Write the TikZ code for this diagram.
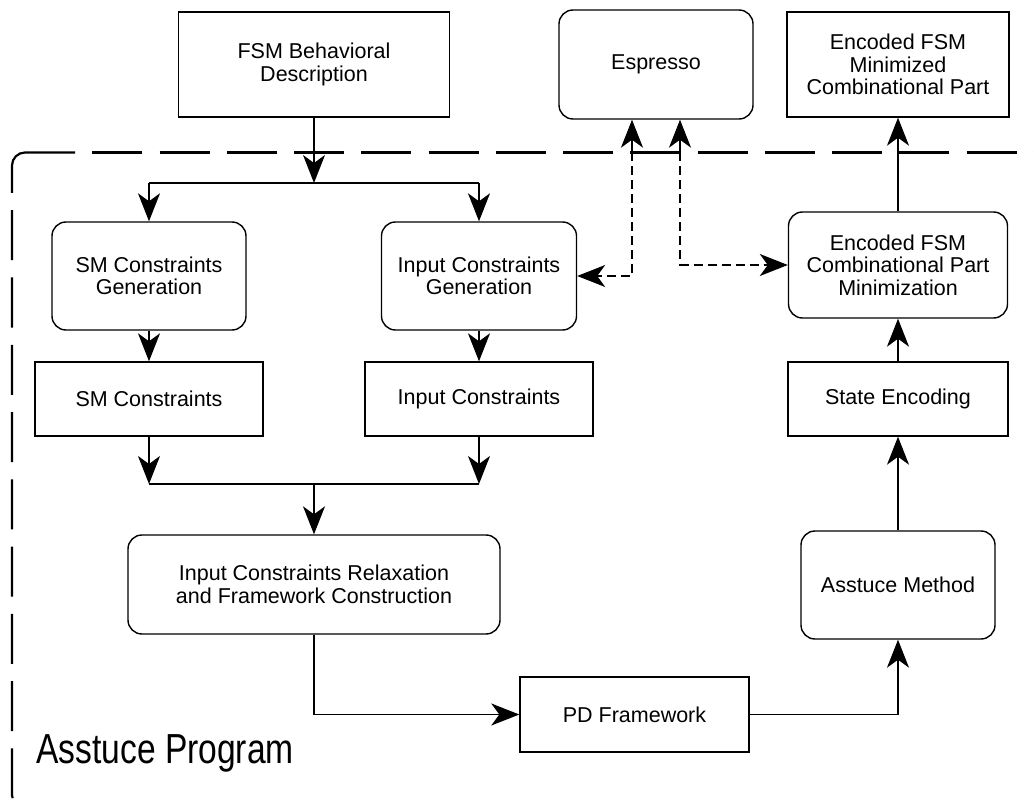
\documentclass[tikz,border=0pt]{standalone}
\usepackage{fontspec}
\usepackage{graphicx}
\setmainfont{Liberation Sans}
\usetikzlibrary{arrows.meta}

\begin{document}
\begin{tikzpicture}[x=1pt,y=-1pt,
  box/.style={draw, line width=1.4pt, align=center, inner sep=0pt,
    font=\fontsize{21.5}{22.5}\selectfont},
  rbox/.style={box, rounded corners=14pt},
  wire/.style={line width=1.4pt},
  conn/.style={wire, -{Stealth[length=28pt,width=22pt,inset=8pt]}},
  dconn/.style={conn, dash pattern=on 9pt off 5pt},
  frame/.style={line width=2.2pt},
  framedash/.style={frame, dash pattern=on 50pt off 17.25pt, dash phase=50pt}
]
\useasboundingbox (0,0) rectangle (1034,805);
\clip (0,0) rectangle (1034,805);

% program boundary (dashed, runs off the page to the right and bottom)
\draw[frame, rounded corners=13pt] (75,152.5) -- (12,152.5) -- (12,193);
\draw[framedash] (75,152.5) -- (1120,152.5);
\draw[framedash, rounded corners=13pt] (12,193) -- (12,808) -- (80,808);

% blocks
\node[box,  minimum width=271pt, minimum height=105pt] (fsm)   at (314,64.5) {FSM Behavioral\\Description};
\node[rbox, minimum width=194pt, minimum height=109pt] (esp)   at (656,64.5) {Espresso};
\node[box,  minimum width=222pt, minimum height=105pt] (emin)  at (898,64.5) {Encoded FSM\\Minimized\\Combinational Part};

\node[rbox, minimum width=194pt, minimum height=108pt] (smcg)  at (149,276) {SM Constraints\\Generation};
\node[rbox, minimum width=195pt, minimum height=108pt] (icg)   at (479,276) {Input Constraints\\Generation};
\node[rbox, minimum width=219pt, minimum height=106pt] (ecm)   at (898,265) {Encoded FSM\\Combinational Part\\Minimization};

\node[box,  minimum width=228pt, minimum height=74pt]  (smc)   at (149,399) {SM Constraints};
\node[box,  minimum width=228pt, minimum height=74pt]  (ic)    at (479,399) {Input Constraints};
\node[box,  minimum width=220pt, minimum height=74pt]  (se)    at (898,399) {State Encoding};

\node[rbox, minimum width=372pt, minimum height=99pt]  (relax) at (314,584.5) {Input Constraints Relaxation\\and Framework Construction};
\node[rbox, minimum width=194pt, minimum height=108pt] (asm)   at (898,585) {Asstuce Method};

\node[box,  minimum width=229pt, minimum height=75pt]  (pd)    at (634.5,714.5) {PD Framework};

\node[anchor=base west, inner sep=0pt, font=\fontsize{42}{42}\selectfont] (prog) at (36,763)
  {\scalebox{0.8}[1]{Asstuce Program}};

% junction points
\coordinate (jtop) at (314,183);
\coordinate (jmid) at (314,484);
\coordinate (ea) at (632,152.5);
\coordinate (eb) at (680,152.5);

% main flow
\draw[conn] (fsm.south) -- (jtop);
\draw[wire] (smcg.north |- jtop) -- (icg.north |- jtop);
\draw[conn] (smcg.north |- jtop) -- (smcg.north);
\draw[conn] (icg.north |- jtop) -- (icg.north);

\draw[conn] (smcg.south) -- (smc.north);
\draw[conn] (icg.south) -- (ic.north);

\draw[conn] (smc.south) -- (smc.south |- jmid);
\draw[conn] (ic.south) -- (ic.south |- jmid);
\draw[wire] (smc.south |- jmid) -- (ic.south |- jmid);
\draw[conn] (jmid) -- (relax.north);

\draw[conn] (relax.south) |- (pd.west);
\draw[conn] (pd.east) -| (asm.south);
\draw[conn] (asm.north) -- (se.south);
\draw[conn] (se.north) -- (ecm.south);
\draw[conn] (ecm.north) -- (emin.south);

% calls to Espresso
\draw[wire] (ea) -- (eb);
\draw[conn] (ea) -- (ea |- esp.south);
\draw[conn] (eb) -- (eb |- esp.south);
\draw[dconn] (ea) |- (icg.east);
\draw[dconn] (eb) |- (ecm.west);
\end{tikzpicture}
\end{document}
